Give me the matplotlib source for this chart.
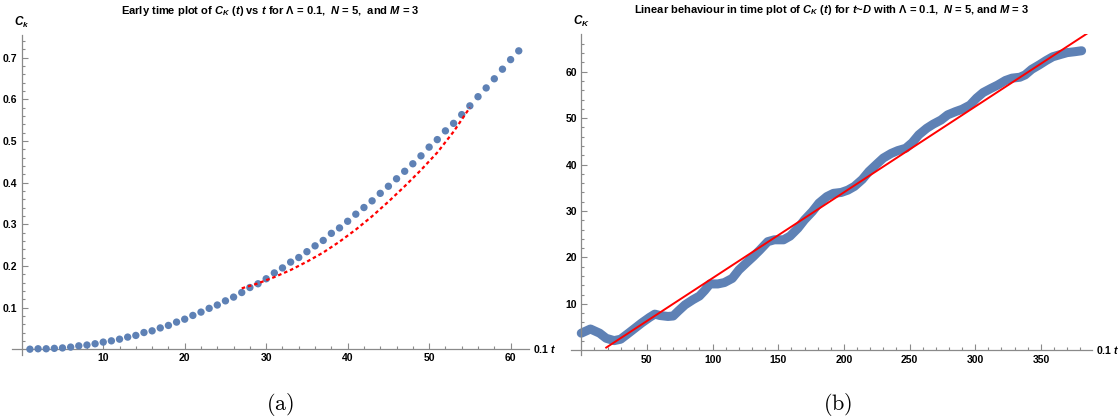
import matplotlib.pyplot as plt
import matplotlib.transforms as mtransforms

plt.rcParams['font.family'] = ['Liberation Sans', 'DejaVu Sans']
plt.rcParams['mathtext.fontset'] = 'custom'
plt.rcParams['mathtext.rm'] = 'Liberation Sans:bold'
plt.rcParams['mathtext.it'] = 'Liberation Sans:italic:bold'
plt.rcParams['mathtext.bf'] = 'Liberation Sans:bold'

# panel (a): early time, one point per step
t_early = list(range(1, 62))
c_early = [0.000, 0.001, 0.001, 0.002, 0.003, 0.005, 0.008, 0.010, 0.013, 0.017,
           0.020, 0.024, 0.029, 0.033, 0.040, 0.044, 0.051, 0.057, 0.065, 0.072,
           0.081, 0.089, 0.098, 0.106, 0.116, 0.125, 0.136, 0.148, 0.157, 0.169,
           0.183, 0.195, 0.209, 0.220, 0.234, 0.248, 0.261, 0.278, 0.291, 0.307,
           0.324, 0.340, 0.356, 0.374, 0.391, 0.409, 0.427, 0.445, 0.464, 0.485,
           0.503, 0.524, 0.542, 0.563, 0.584, 0.606, 0.627, 0.649, 0.672, 0.695,
           0.716]
# red dashed fit in panel (a)
fit_early_t = [27, 29, 31, 33, 35, 37, 39, 41, 43, 45, 47, 49, 51, 53, 55]
fit_early_c = [0.146, 0.158, 0.173, 0.190, 0.210, 0.232, 0.258, 0.287, 0.319,
               0.354, 0.391, 0.430, 0.472, 0.522, 0.580]

# panel (b): linear regime
t_late = [0, 7, 14, 19, 25, 30, 36, 41, 46, 52, 56, 60, 66, 70, 74, 79, 85, 90,
          94, 98, 104, 109, 115, 120, 126, 131, 136, 142, 147, 154, 159, 165,
          170, 176, 181, 187, 192, 198, 203, 208, 214, 219, 225, 230, 236, 241,
          247, 252, 257, 263, 268, 274, 279, 285, 290, 296, 301, 306, 312, 317,
          323, 328, 334, 338, 343, 349, 354, 359, 365, 370, 376, 381]
c_late = [3.7, 4.6, 3.7, 2.6, 2.1, 2.4, 3.7, 4.8, 5.9, 7.1, 7.8, 7.5, 7.3, 7.4,
          8.5, 9.8, 10.9, 11.7, 12.9, 14.3, 14.3, 14.6, 15.5, 17.3, 18.9, 20.2,
          21.6, 23.4, 23.8, 23.8, 24.6, 26.3, 28.1, 29.9, 31.7, 33.1, 33.8, 34.0,
          34.5, 35.3, 36.8, 38.5, 40.1, 41.4, 42.4, 43.0, 43.5, 44.7, 46.4, 47.8,
          48.7, 49.6, 50.7, 51.4, 51.9, 52.8, 54.3, 55.5, 56.4, 57.1, 58.1, 58.6,
          58.8, 59.3, 60.5, 61.5, 62.4, 63.2, 63.7, 64.1, 64.3, 64.5]
fit_late_t = [19, 390]
fit_late_c = [0.6, 69.1]

blue = '#5E81B5'
axis_gray = '#8a8a8a'

fig = plt.figure(figsize=(11.2, 4.16), dpi=100)
ax1 = fig.add_axes([0.0107, 0.1466, 0.4612, 0.7692])
ax2 = fig.add_axes([0.5096, 0.1466, 0.4655, 0.7716])


def style_axis(ax, xmaj, xmin, ymaj, ymin, ylab):
    for s in ['top', 'right']:
        ax.spines[s].set_visible(False)
    for s in ['left', 'bottom']:
        ax.spines[s].set_position(('data', 0))
        ax.spines[s].set_color(axis_gray)
        ax.spines[s].set_linewidth(0.9)
    ax.set_xticks(xmaj)
    ax.set_xticks(xmin, minor=True)
    ax.set_yticks(ymaj)
    ax.set_yticks(ymin, minor=True)
    ax.tick_params(which='both', direction='in', color=axis_gray, width=0.8,
                   labelsize=7.5, pad=3)
    ax.tick_params(which='major', length=4)
    ax.tick_params(which='minor', length=2.2)
    for lab in ax.get_xticklabels() + ax.get_yticklabels():
        lab.set_fontweight('bold')
    tr = mtransforms.blended_transform_factory(ax.transAxes, ax.transData)
    ax.annotate(r'0.1 $t$', xy=(1, 0), xycoords=tr, xytext=(3, 0),
                textcoords='offset points', ha='left', va='center',
                fontsize=7.5, fontweight='bold')
    tr2 = mtransforms.blended_transform_factory(ax.transData, ax.transAxes)
    ax.annotate(ylab, xy=(0, 1), xycoords=tr2, xytext=(0, 9),
                textcoords='offset points', ha='center', va='center',
                fontsize=8.5, fontweight='bold')


# (a)
ax1.scatter(t_early, c_early, s=28, color=blue, edgecolors='none', zorder=3)
ax1.plot(fit_early_t, fit_early_c, color='red', lw=1.6, ls=(0, (1.6, 1.3)), zorder=4)
ax1.set_xlim(-1.2, 62.2)
ax1.set_ylim(-0.014, 0.754)
style_axis(ax1, [10, 20, 30, 40, 50, 60], [x for x in range(2, 62, 2) if x % 10],
           [0.1, 0.2, 0.3, 0.4, 0.5, 0.6, 0.7],
           [k / 100 for k in range(2, 76, 2) if k % 10], r'$C_k$')
ax1.set_title(r'Early time plot of $C_K\ (t)$ vs $t$ for Λ = 0.1,  $N$ = 5,  and $M$ = 3',
              fontsize=8, fontweight='bold', pad=15)

# (b)
ax2.plot(t_late, c_late, color=blue, lw=6.5, solid_capstyle='round',
         solid_joinstyle='round', zorder=2)
ax2.plot(fit_late_t, fit_late_c, color='red', lw=1.4, zorder=3)
ax2.set_xlim(-8, 389)
ax2.set_ylim(-1.0, 68.1)
style_axis(ax2, [50, 100, 150, 200, 250, 300, 350],
           [x for x in range(10, 390, 10) if x % 50],
           [10, 20, 30, 40, 50, 60], [y for y in range(2, 68, 2) if y % 10], r'$C_K$')
ax2.set_title(r'Linear behaviour in time plot of $C_K\ (t)$ for $t$~$D$ with Λ = 0.1,  $N$ = 5, and $M$ = 3',
              fontsize=8, fontweight='bold', pad=15)

fig.text(280 / 1120, 1 - 404 / 416, r'$\mathrm{(a)}$', math_fontfamily='cm',
         fontsize=16, ha='center', va='center')
fig.text(838 / 1120, 1 - 404 / 416, r'$\mathrm{(b)}$', math_fontfamily='cm',
         fontsize=16, ha='center', va='center')

fig.savefig('out.png', dpi=100)
